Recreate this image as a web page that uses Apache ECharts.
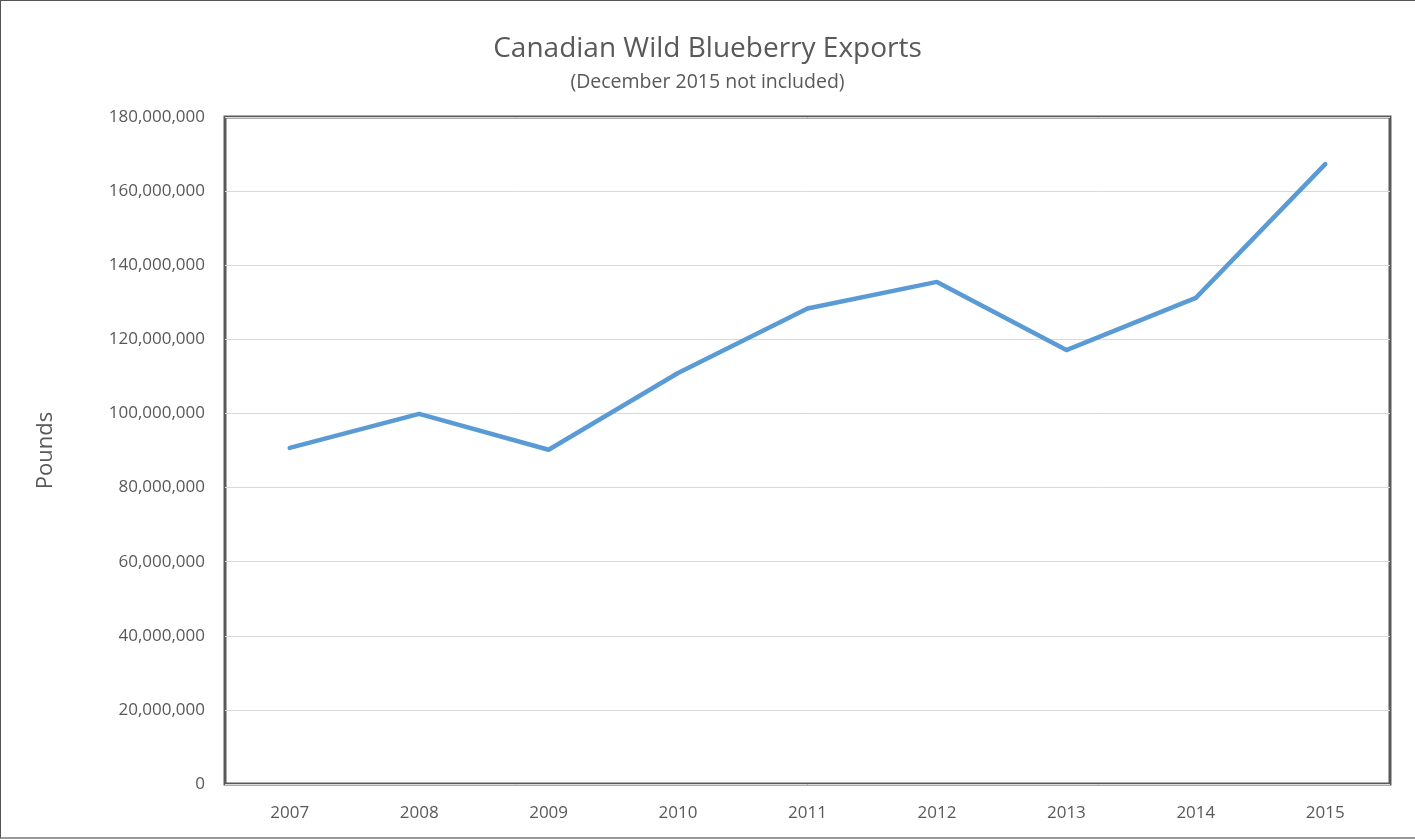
<!DOCTYPE html>
<html>
<head>
<meta charset="utf-8">
<script src="https://cdn.jsdelivr.net/npm/echarts@6/dist/echarts.min.js"></script>
<style>
html,body{margin:0;padding:0;background:#fff;}
#frame{position:absolute;left:0;top:0;width:1415px;height:839px;box-sizing:border-box;border:1px solid #555;border-right:none;border-bottom:2px solid #999;}
#chart{position:absolute;left:0;top:0;width:1415px;height:839px;}
</style>
</head>
<body>
<div id="chart"></div>
<div id="frame"></div>
<script>
const years = ['2007','2008','2009','2010','2011','2012','2013','2014','2015'];
const exportsLbs = [90700000, 99900000, 90200000, 110900000, 128300000, 135500000, 117100000, 131200000, 167300000];
const titleText = 'Canadian Wild Blueberry Exports';
const subtitleText = '(December 2015 not included)';
const yAxisName = 'Pounds';

const chart = echarts.init(document.getElementById('chart'));
const font = '"Open Sans", sans-serif';
chart.setOption({
  animation: false,
  backgroundColor: '#fff',
  title: {
    text: titleText,
    subtext: subtitleText,
    left: 'center',
    top: 26,
    itemGap: 3,
    textStyle: {fontFamily: font, fontSize: 28, fontWeight: 'normal', color: '#595959', lineHeight: 36},
    subtextStyle: {fontFamily: font, fontSize: 19.5, color: '#595959', lineHeight: 24}
  },
  grid: {
    left: 225, right: 25, top: 117, bottom: 55,
    show: true, borderColor: '#595959', borderWidth: 3, backgroundColor: 'transparent'
  },
  xAxis: {
    type: 'category',
    data: years,
    boundaryGap: true,
    axisLine: {show: false},
    axisTick: {show: false},
    axisLabel: {fontFamily: font, fontSize: 17, color: '#595959', margin: 21}
  },
  yAxis: {
    type: 'value',
    min: 0, max: 180000000, interval: 20000000,
    name: yAxisName,
    nameLocation: 'middle',
    nameGap: 168,
    nameTextStyle: {fontFamily: font, fontSize: 22, color: '#595959'},
    axisLine: {show: false},
    axisTick: {show: false},
    splitLine: {lineStyle: {color: '#D9D9D9', width: 1}},
    axisLabel: {
      fontFamily: font, fontSize: 17, color: '#595959', margin: 20,
      formatter: v => v.toLocaleString('en-US')
    }
  },
  series: [{
    type: 'line',
    data: exportsLbs,
    symbol: 'none',
    lineStyle: {color: '#5B9BD5', width: 4.5, cap: 'round', join: 'round'},
    itemStyle: {color: '#5B9BD5'}
  }]
});
</script>
</body>
</html>
